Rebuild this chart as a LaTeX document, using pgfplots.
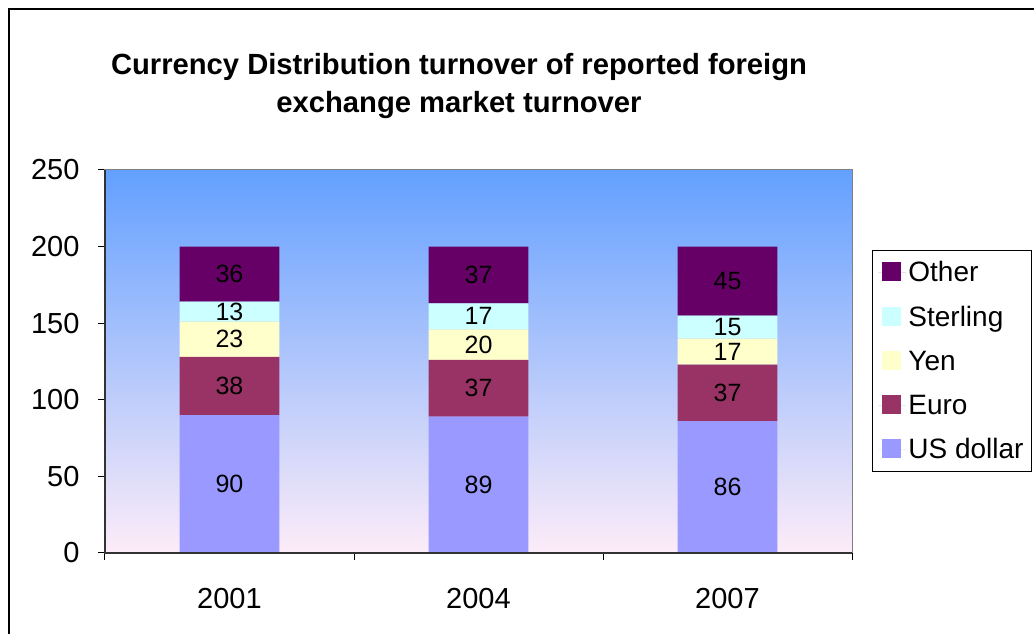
\documentclass[border=0pt]{standalone}
\usepackage{pgfplots}
\pgfplotsset{compat=1.18}
\usepackage{fontspec}
\setmainfont{Liberation Sans}
\definecolor{cUSD}{HTML}{9999FF}
\definecolor{cEUR}{HTML}{993366}
\definecolor{cYEN}{HTML}{FFFFCC}
\definecolor{cGBP}{HTML}{CCFFFF}
\definecolor{cOTH}{HTML}{660066}
\definecolor{bgtop}{RGB}{99,160,255}
\definecolor{bgbot}{RGB}{253,236,248}
\begin{document}
\begin{tikzpicture}[x=1pt,y=1pt]
\path[use as bounding box] (0,0) rectangle (1034,634);
\draw[black, line width=1.5pt] (9,0) -- (9,625) -- (1034,625);
\node[font=\bfseries\fontsize{29.2}{38}\selectfont, align=center] at (459,547.5) {Currency Distribution turnover of reported foreign\\exchange market turnover};
\begin{axis}[at={(105pt,81pt)}, anchor=south west, width=747pt, height=383pt, scale only axis,
  ybar stacked, bar width=0.4, xmin=-0.5, xmax=2.5, ymin=0, ymax=250,
  axis background/.style={shade, top color=bgtop, bottom color=bgbot},
  axis line style={draw=gray, line width=1pt},
  after end axis/.code={\draw[black!80, line width=1.2pt] (rel axis cs:0,1) -- (rel axis cs:0,0) -- (rel axis cs:1,0);},
  xtick={-0.5,0.5,1.5,2.5}, xticklabels={},
  extra x ticks={0,1,2}, extra x tick labels={2001,2004,2007},
  extra x tick style={major tick length=0pt, xticklabel style={yshift=-32pt}},
  ytick={0,50,...,250},
  /pgf/number format/assume math mode=true,
  tick align=outside, major tick length=7pt, xtick pos=bottom, ytick pos=left,
  tick style={black, line width=1pt},
  ticklabel style={font=\fontsize{29}{34}\selectfont},
  yticklabel style={xshift=-15pt},
  legend style={at={(1.0268,0.791)}, anchor=north west, draw=black, line width=0.8pt,
    font=\fontsize{28}{32}\selectfont, row sep=19pt, inner xsep=6pt, inner ysep=9pt},
  legend cell align=left,
  reverse legend,
  legend image code/.code={\fill[#1] (4pt,-9pt) rectangle (23pt,10pt); \path (0pt,0pt) -- (28pt,0pt);},
]
\addplot[fill=cUSD, draw=none] coordinates {(0,90) (1,89) (2,86)};
\addplot[fill=cEUR, draw=none] coordinates {(0,38) (1,37) (2,37)};
\addplot[fill=cYEN, draw=none] coordinates {(0,23) (1,20) (2,17)};
\addplot[fill=cGBP, draw=none] coordinates {(0,13) (1,17) (2,15)};
\addplot[fill=cOTH, draw=none] coordinates {(0,36) (1,37) (2,45)};
\legend{US dollar,Euro,Yen,Sterling,Other}
\end{axis}
\begin{axis}[at={(105pt,81pt)}, anchor=south west, width=747pt, height=383pt, scale only axis,
  xmin=-0.5, xmax=2.5, ymin=0, ymax=250, hide axis]
\addplot[only marks, mark=*, mark size=0pt, mark options={draw=none, fill=none},
  nodes near coords, point meta=explicit symbolic,
  nodes near coords style={anchor=center, text=black, font=\fontsize{25}{28}\selectfont}]
  table[meta=lab] {
x y lab
0 45 90
0 109 38
0 139.5 23
0 157.5 13
0 182 36
1 44.5 89
1 107.5 37
1 136 20
1 154.5 17
1 181.5 37
2 43 86
2 104.5 37
2 131.5 17
2 147.5 15
2 177.5 45
};
\end{axis}
\end{tikzpicture}
\end{document}
